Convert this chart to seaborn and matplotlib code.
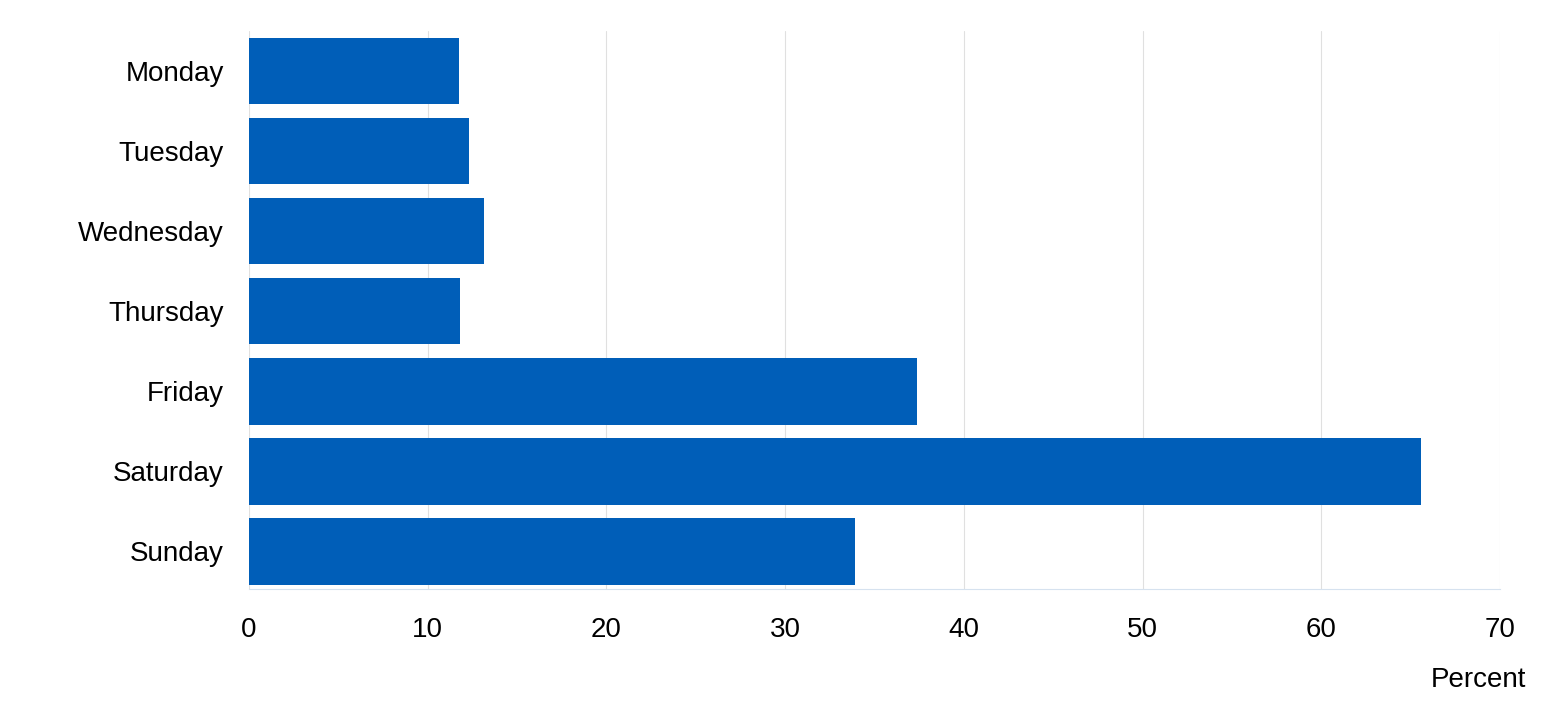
import matplotlib
matplotlib.use("Agg")
import matplotlib.pyplot as plt
import seaborn as sns
import pandas as pd

days = ["Monday", "Tuesday", "Wednesday", "Thursday", "Friday", "Saturday", "Sunday"]
percent = [11.75, 12.3, 13.15, 11.8, 37.4, 65.6, 33.9]
xticks = [0, 10, 20, 30, 40, 50, 60, 70]

df = pd.DataFrame({"day": days, "percent": percent})

sns.set_style("white")
plt.rcParams["font.family"] = ["Liberation Sans", "DejaVu Sans"]
plt.rcParams["text.color"] = "black"

fig = plt.figure(figsize=(15.59, 7.15), dpi=100)
ax = fig.add_axes([0.1597, 0.1762, 0.8025, 0.7804])

sns.barplot(data=df, x="percent", y="day", color="#005EB8", saturation=1,
            width=0.83, linewidth=0, ax=ax, zorder=3)

ax.set_xlim(0, 70)
ax.set_ylim(6.47, -0.5)
ax.set_xticks(xticks)
ax.set_xticklabels([str(t) for t in xticks])
ax.grid(axis="x", color="#e0e0e0", linewidth=0.8, zorder=0)
for s in ["top", "right", "left"]:
    ax.spines[s].set_visible(False)
ax.spines["bottom"].set_color("#d6e2ef")
ax.tick_params(axis="x", length=6, color="#d9d9d9", labelsize=20, pad=14,
               labelcolor="black")
ax.tick_params(axis="y", length=0, labelsize=20, pad=18, labelcolor="black")
ax.set_xlabel("")
ax.set_ylabel("")
fig.text(0.979, 0.031, "Percent", ha="right", va="bottom", fontsize=20,
         color="black")

fig.savefig("out.png", dpi=100)
